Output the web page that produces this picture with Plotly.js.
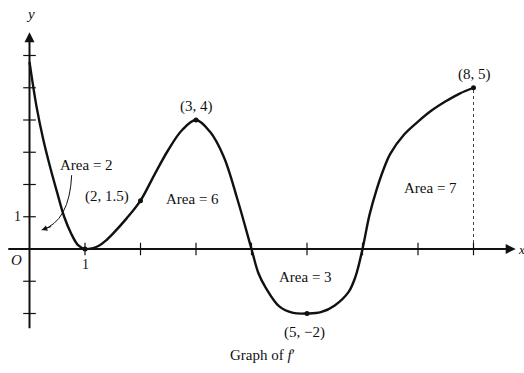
<!DOCTYPE html>
<html>
<head>
<meta charset="utf-8">
<script src="https://cdn.plot.ly/plotly-3.0.1.min.js"></script>
<style>
  html, body { margin: 0; padding: 0; background: #fff; }
  #chart { width: 524px; height: 373px; }
</style>
</head>
<body>
<div id="chart"></div>
<script>
// graph of f'
var fx = [0, 0.125, 0.25, 0.375, 0.5, 0.625, 0.75, 0.875, 1,
          1.125, 1.25, 1.375, 1.5, 1.75, 2, 2.25, 2.5, 2.75, 3,
          3.25, 3.5, 3.75, 4, 4.125, 4.25, 4.5, 4.75, 5,
          5.25, 5.5, 5.75, 5.875, 6, 6.125, 6.25, 6.375, 6.5, 6.75,
          7, 7.25, 7.5, 7.75, 8];
var fy = [5.8, 4.43, 3.38, 2.52, 1.74, 1.0, 0.48, 0.12, 0,
          0.02, 0.1, 0.26, 0.47, 0.95, 1.5, 2.3, 3.07, 3.69, 4,
          3.64, 2.86, 1.52, 0, -0.75, -1.18, -1.78, -1.98, -2,
          -1.96, -1.75, -1.33, -0.85, 0, 1.05, 1.82, 2.45, 2.95, 3.55,
          3.95, 4.3, 4.58, 4.82, 5];

// marked points and their labels
var ptX = [1, 2, 3, 5, 8];
var ptY = [0, 1.5, 4, -2, 5];
var ptLabels = ['', '(2, 1.5)', '(3, 4)', '(5, \u22122)', '(8, 5)'];

// areas between the curve and the x-axis
var areaLabels = ['Area = 2', 'Area = 6', 'Area = 3', 'Area = 7'];

// tick marks
var xTicks = [1, 2, 3, 4, 5, 6, 7, 8];
var yTicks = [-2, -1, 1, 2, 3, 4, 5, 6];

var serif = 'Liberation Serif, Times New Roman, serif';
var ink = '#111';

var curve = {
  x: fx, y: fy, mode: 'lines', type: 'scatter',
  line: {color: ink, width: 2.4, shape: 'spline', smoothing: 1},
  hoverinfo: 'none'
};
var dots = {
  x: ptX, y: ptY, mode: 'markers', type: 'scatter',
  marker: {color: ink, size: 5},
  hoverinfo: 'none'
};
var xtickMarks = {
  x: xTicks, y: xTicks.map(function () { return 0; }),
  mode: 'markers', type: 'scatter',
  marker: {symbol: 'line-ns-open', size: 9, color: ink, line: {color: ink, width: 1.2}},
  hoverinfo: 'none'
};
var ytickMarks = {
  x: yTicks.map(function () { return 0; }), y: yTicks,
  mode: 'markers', type: 'scatter',
  marker: {symbol: 'line-ew-open', size: 9, color: ink, line: {color: ink, width: 1.2}},
  hoverinfo: 'none'
};
// dotted drop line at the right end
var dropLine = {
  x: [ptX[4], ptX[4]], y: [0, ptY[4]], mode: 'lines', type: 'scatter',
  line: {color: '#444', width: 1, dash: 'dot'},
  hoverinfo: 'none'
};

function txt(x, y, s, extra) {
  var a = {x: x, y: y, xref: 'x', yref: 'y', text: s, showarrow: false,
           font: {family: serif, size: 15, color: ink}};
  for (var k in extra) a[k] = extra[k];
  return a;
}

var annotations = [
  // axes with arrow heads
  {x: 8.76, y: 0, ax: -0.41, ay: 0, xref: 'x', yref: 'y', axref: 'x', ayref: 'y',
   text: '', showarrow: true, arrowhead: 2, arrowsize: 1, arrowwidth: 2, arrowcolor: ink},
  {x: 0, y: 6.72, ax: 0, ay: -2.5, xref: 'x', yref: 'y', axref: 'x', ayref: 'y',
   text: '', showarrow: true, arrowhead: 2, arrowsize: 1, arrowwidth: 2, arrowcolor: ink},
  // arrow head of the "Area = 2" pointer
  {x: 0.22, y: 0.59, ax: 11, ay: -4, xref: 'x', yref: 'y',
   text: '', showarrow: true, arrowhead: 2, arrowsize: 1.1, arrowwidth: 1, arrowcolor: ink},
  txt(0.01, 7.3, '<i>y</i>', {font: {family: serif, size: 15, color: ink}}),
  txt(8.77, -0.03, '<i>x</i>', {xanchor: 'left', font: {family: serif, size: 13, color: ink}}),
  txt(-0.24, -0.34, '<i>O</i>', {font: {family: serif, size: 15, color: ink}}),
  txt(xTicks[0], -0.47, String(xTicks[0]), {font: {family: serif, size: 14, color: ink}}),
  txt(-0.21, 1.02, String(yTicks[2]), {font: {family: serif, size: 14, color: ink}}),
  txt(1.40, 1.62, ptLabels[1]),
  txt(3.0, 4.43, ptLabels[2]),
  txt(4.95, -2.6, ptLabels[3]),
  txt(8.01, 5.4, ptLabels[4]),
  txt(1.02, 2.6, areaLabels[0]),
  txt(2.93, 1.55, areaLabels[1]),
  txt(4.98, -0.87, areaLabels[2]),
  txt(7.23, 1.89, areaLabels[3]),
  txt(4.2, -3.3, 'Graph of <i>f</i>\u2032')
];

var layout = {
  width: 524, height: 373,
  margin: {l: 0, r: 0, t: 0, b: 0},
  paper_bgcolor: '#fff', plot_bgcolor: '#fff',
  showlegend: false,
  xaxis: {range: [-29.5 / 55.5, (524 - 29.5) / 55.5], visible: false, fixedrange: true},
  yaxis: {range: [(249 - 373) / 32.25, 249 / 32.25], visible: false, fixedrange: true},
  shapes: [
    // curved pointer from the "Area = 2" label
    {type: 'path', xref: 'x', yref: 'y', path: 'M 0.76 2.29 Q 0.72 0.85 0.22 0.59',
     line: {color: ink, width: 1}}
  ],
  annotations: annotations
};

Plotly.newPlot('chart', [dropLine, curve, dots, xtickMarks, ytickMarks], layout,
  {displayModeBar: false, staticPlot: true});
</script>
</body>
</html>
